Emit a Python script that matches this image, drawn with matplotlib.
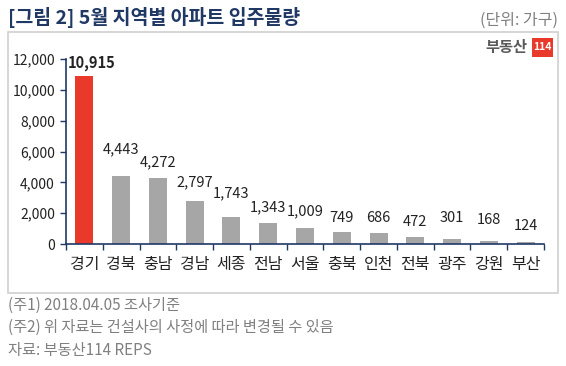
import matplotlib
matplotlib.use("Agg")
import matplotlib.pyplot as plt
from matplotlib.patches import Rectangle

plt.rcParams['font.family'] = ['Noto Sans CJK KR', 'DejaVu Sans']

regions = ["경기", "경북", "충남", "경남", "세종", "전남", "서울", "충북", "인천", "전북", "광주", "강원", "부산"]
households = [10915, 4443, 4272, 2797, 1743, 1343, 1009, 749, 686, 472, 301, 168, 124]
yticks = [0, 2000, 4000, 6000, 8000, 10000, 12000]
# 라벨 위치 보정 (px, 막대 끝에서 라벨 중심까지)
label_dy = [13, 26, 16, 19, 24, 16, 17, 14, 15, 15, 21, 21, 16]
label_dx = [7, 0, 0, 0, 0, 0, 0, 0, 0, 0, 0, 0, 0]

RED = "#e8392b"
GRAY = "#a6a6a6"
NAVY = "#1f3864"
TXT = "#222222"

W, H = 566, 366
fig = plt.figure(figsize=(W / 100, H / 100), dpi=100)

# 바깥 테두리
fig.patches.append(Rectangle((8 / W, 1 - 293 / H), 550 / W, 261 / H, transform=fig.transFigure,
                             fill=False, edgecolor="#d0d0d0", linewidth=1.2))

ax = fig.add_axes([66 / W, 1 - 244 / H, 478 / W, 185 / H])
x = list(range(len(regions)))
colors = [RED] + [GRAY] * (len(regions) - 1)
ax.bar(x, households, width=0.49, color=colors)
ax.set_xlim(-0.5, len(regions) - 0.5)
ax.set_ylim(0, 12000)
ax.set_yticks(yticks)
ax.set_yticklabels([f"{v:,}" for v in yticks], fontsize=10, color=TXT)
ax.set_xticks(x)
ax.set_xticklabels(regions, fontsize=11.5, color=TXT)
ax.tick_params(axis="x", length=0, pad=9)
ax.set_xticks([i - 0.5 for i in range(len(regions) + 1)], minor=True)
ax.tick_params(axis="x", which="minor", length=4, color=NAVY, width=1)
ax.tick_params(axis="y", length=4, color=NAVY, width=1, pad=4)
for s in ["top", "right"]:
    ax.spines[s].set_visible(False)
for s in ["left", "bottom"]:
    ax.spines[s].set_color(NAVY)
    ax.spines[s].set_linewidth(1.2)

for i, v in enumerate(households):
    ax.annotate(f"{v:,}", (i, v), xytext=(label_dx[i] * 0.72, label_dy[i] * 0.72),
                textcoords="offset points", ha="center", va="center", fontsize=10.5, color=TXT,
                fontweight="bold" if i == 0 else "normal")

# 제목, 단위
fig.text(8 / W, 1 - 17 / H, "[그림 2] 5월 지역별 아파트 입주물량", fontsize=14,
         fontweight="bold", color=NAVY, va="center", ha="left")
fig.text(558 / W, 1 - 20 / H, "(단위: 가구)", fontsize=11.5, color="#808080", va="center", ha="right")

# 로고
fig.text(527 / W, 1 - 47 / H, "부동산", fontsize=11, fontweight="bold", color="#5a5a5a",
         va="center", ha="right")
fig.patches.append(Rectangle((532 / W, 1 - 57 / H), 21 / W, 19 / H, transform=fig.transFigure,
                             facecolor=RED, edgecolor="none"))
fig.text(542.5 / W, 1 - 47.5 / H, "114", fontsize=7.5, fontweight="bold", color="white",
         va="center", ha="center")

# 주석
notes = ["(주1) 2018.04.05 조사기준",
         "(주2) 위 자료는 건설사의 사정에 따라 변경될 수 있음",
         "자료: 부동산114 REPS"]
for k, t in enumerate(notes):
    fig.text(8 / W, 1 - (305 + 22.5 * k) / H, t, fontsize=11, color="#808080", va="center", ha="left")

fig.savefig("out.png", dpi=100)
